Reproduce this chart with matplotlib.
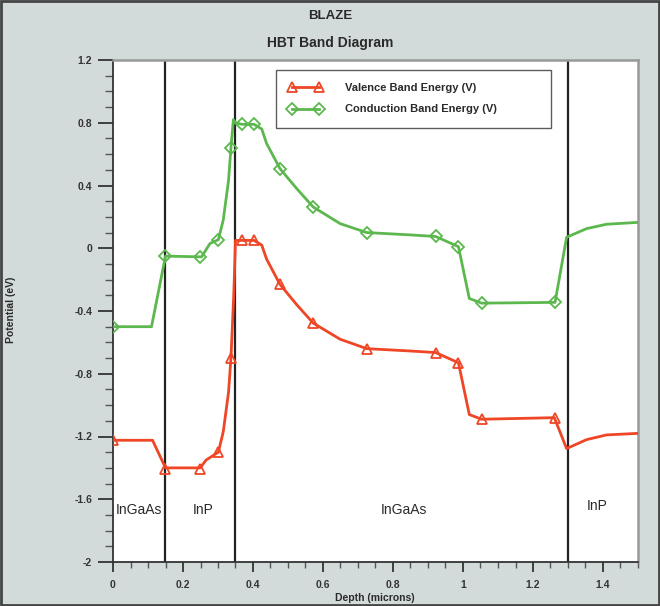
import matplotlib.pyplot as plt
from matplotlib.patches import Rectangle
from matplotlib.ticker import MultipleLocator, FixedLocator

plt.rcParams['font.family'] = ['Liberation Sans', 'DejaVu Sans']

# Conduction band curve (green)
cond_x = [0, 0.11, 0.15, 0.253, 0.277, 0.301, 0.315, 0.33, 0.337, 0.344, 0.35, 0.368,
          0.403, 0.425, 0.439, 0.477, 0.525, 0.572, 0.649, 0.725, 0.85, 0.922, 0.987,
          1.018, 1.053, 1.263, 1.296, 1.353, 1.41, 1.5]
cond_y = [-0.5, -0.5, -0.05, -0.055, 0.03, 0.055, 0.18, 0.43, 0.64, 0.82, 0.80, 0.79,
          0.79, 0.76, 0.667, 0.508, 0.38, 0.263, 0.157, 0.10, 0.085, 0.075, 0.01,
          -0.32, -0.35, -0.345, 0.07, 0.125, 0.153, 0.165]

# Valence band curve (red)
val_x = [0, 0.113, 0.15, 0.249, 0.266, 0.301, 0.315, 0.33, 0.337, 0.345, 0.35, 0.368,
         0.403, 0.425, 0.439, 0.477, 0.525, 0.572, 0.649, 0.725, 0.85, 0.922, 0.987,
         1.018, 1.053, 1.261, 1.296, 1.353, 1.41, 1.5]
val_y = [-1.224, -1.224, -1.40, -1.40, -1.35, -1.30, -1.17, -0.92, -0.70, -0.30, 0.05, 0.05,
         0.05, 0.02, -0.07, -0.23, -0.36, -0.477, -0.58, -0.64, -0.655, -0.665, -0.73,
         -1.06, -1.09, -1.08, -1.277, -1.22, -1.19, -1.18]

# marker positions
mark_x = [0, 0.15, 0.25, 0.301, 0.337, 0.368, 0.403, 0.477, 0.572, 0.725, 0.922, 0.987, 1.053, 1.263]
cond_mark_y = [-0.5, -0.05, -0.055, 0.055, 0.64, 0.79, 0.79, 0.508, 0.263, 0.10, 0.075, 0.01, -0.35, -0.345]
val_mark_y = [-1.224, -1.41, -1.404, -1.30, -0.70, 0.05, 0.05, -0.23, -0.477, -0.64, -0.665, -0.73, -1.09, -1.08]

# material boundaries and labels
boundaries = [0.15, 0.35, 1.3]
region_names = ['InGaAs', 'InP', 'InGaAs', 'InP']
region_x = [0.075, 0.257, 0.83, 1.383]
region_y = [-1.67, -1.67, -1.67, -1.64]

x_ticks = [0, 0.2, 0.4, 0.6, 0.8, 1.0, 1.2, 1.4]
x_labels = ['0', '0.2', '0.4', '0.6', '0.8', '1', '1.2', '1.4']
y_ticks = [-2, -1.6, -1.2, -0.8, -0.4, 0, 0.4, 0.8, 1.2]
y_labels = ['-2', '-1.6', '-1.2', '-0.8', '-0.4', '0', '0.4', '0.8', '1.2']

red = '#ee4626'
green = '#5cb84e'
bg = '#d3dbda'
txt = '#2a2a2a'

fig = plt.figure(figsize=(6.6, 6.06), dpi=100, facecolor=bg)
fig.patches.append(Rectangle((0.002, 0.002), 0.996, 0.996, transform=fig.transFigure,
                             fill=False, edgecolor='#444444', linewidth=2))
ax = fig.add_axes([113 / 660, 1 - 562 / 606, 525 / 660, 502 / 606])
ax.set_facecolor('white')

for b in boundaries:
    ax.axvline(b, color='#222222', linewidth=1.6, zorder=1)

ax.plot(val_x, val_y, color=red, linewidth=2, zorder=3)
ax.plot(cond_x, cond_y, color=green, linewidth=2, zorder=3)
ax.plot(mark_x, val_mark_y, linestyle='none', marker='^', markersize=7, markerfacecolor='none',
        markeredgecolor=red, markeredgewidth=1.3, zorder=4)
ax.plot(mark_x, cond_mark_y, linestyle='none', marker='D', markersize=6, markerfacecolor='none',
        markeredgecolor=green, markeredgewidth=1.3, zorder=4)

# legend proxies
ax.plot([], [], color=red, linewidth=2, marker='^', markersize=7, markerfacecolor='none',
        markeredgecolor=red, markeredgewidth=1.3, label='Valence Band Energy (V)')
ax.plot([], [], color=green, linewidth=2, marker='D', markersize=6, markerfacecolor='none',
        markeredgecolor=green, markeredgewidth=1.3, label='Conduction Band Energy (V)')
leg = ax.legend(loc='upper left', bbox_to_anchor=(0.31, 0.865, 0.524, 0.115), mode='expand',
                numpoints=2, frameon=True, fancybox=False, handlelength=3.0,
                handletextpad=2.0, borderpad=1.2, labelspacing=1.0, borderaxespad=0,
                prop={'weight': 'bold', 'size': 8})
leg.get_frame().set_edgecolor('#333333')
leg.get_frame().set_linewidth(1)
for t in leg.get_texts():
    t.set_color(txt)

for name, rx, ry in zip(region_names, region_x, region_y):
    ax.text(rx, ry, name, ha='center', va='center', fontsize=10, color=txt)

ax.set_xlim(0, 1.5)
ax.set_ylim(-2, 1.2)
ax.xaxis.set_major_locator(FixedLocator(x_ticks))
ax.xaxis.set_minor_locator(MultipleLocator(0.05))
ax.yaxis.set_major_locator(FixedLocator(y_ticks))
ax.yaxis.set_minor_locator(MultipleLocator(0.1))
ax.set_xticklabels(x_labels, fontweight='bold')
ax.set_yticklabels(y_labels, fontweight='bold')
ax.tick_params(axis='y', which='major', direction='out', length=11, width=1.3, labelsize=7.5,
               colors='#333333', pad=4)
ax.tick_params(axis='y', which='minor', direction='out', length=6, width=1, colors='#555555')
ax.tick_params(axis='x', which='major', direction='out', length=7, width=1.3, labelsize=7.5,
               colors='#333333', pad=6)
ax.tick_params(axis='x', which='minor', direction='out', length=4, width=1, colors='#555555')

for s in ['left', 'bottom']:
    ax.spines[s].set_color('#333333')
    ax.spines[s].set_linewidth(1.3)
for s in ['top', 'right']:
    ax.spines[s].set_color('#999999')
    ax.spines[s].set_linewidth(1.8)

fig.text(0.5, 1 - 16 / 606, 'BLAZE', ha='center', va='center', fontsize=9.5, color=txt,
         fontweight='bold')
fig.text(0.5, 1 - 43 / 606, 'HBT Band Diagram', ha='center', va='center', fontsize=10,
         color=txt, fontweight='bold')
fig.text(375 / 660, 1 - 598 / 606, 'Depth (microns)', ha='center', va='center', fontsize=7.5,
         color=txt, fontweight='bold')
fig.text(11 / 660, 1 - 310 / 606, 'Potential (eV)', ha='center', va='center', rotation=90,
         fontsize=7.5, color=txt, fontweight='bold')

fig.savefig('out.png', dpi=100, facecolor=bg)
